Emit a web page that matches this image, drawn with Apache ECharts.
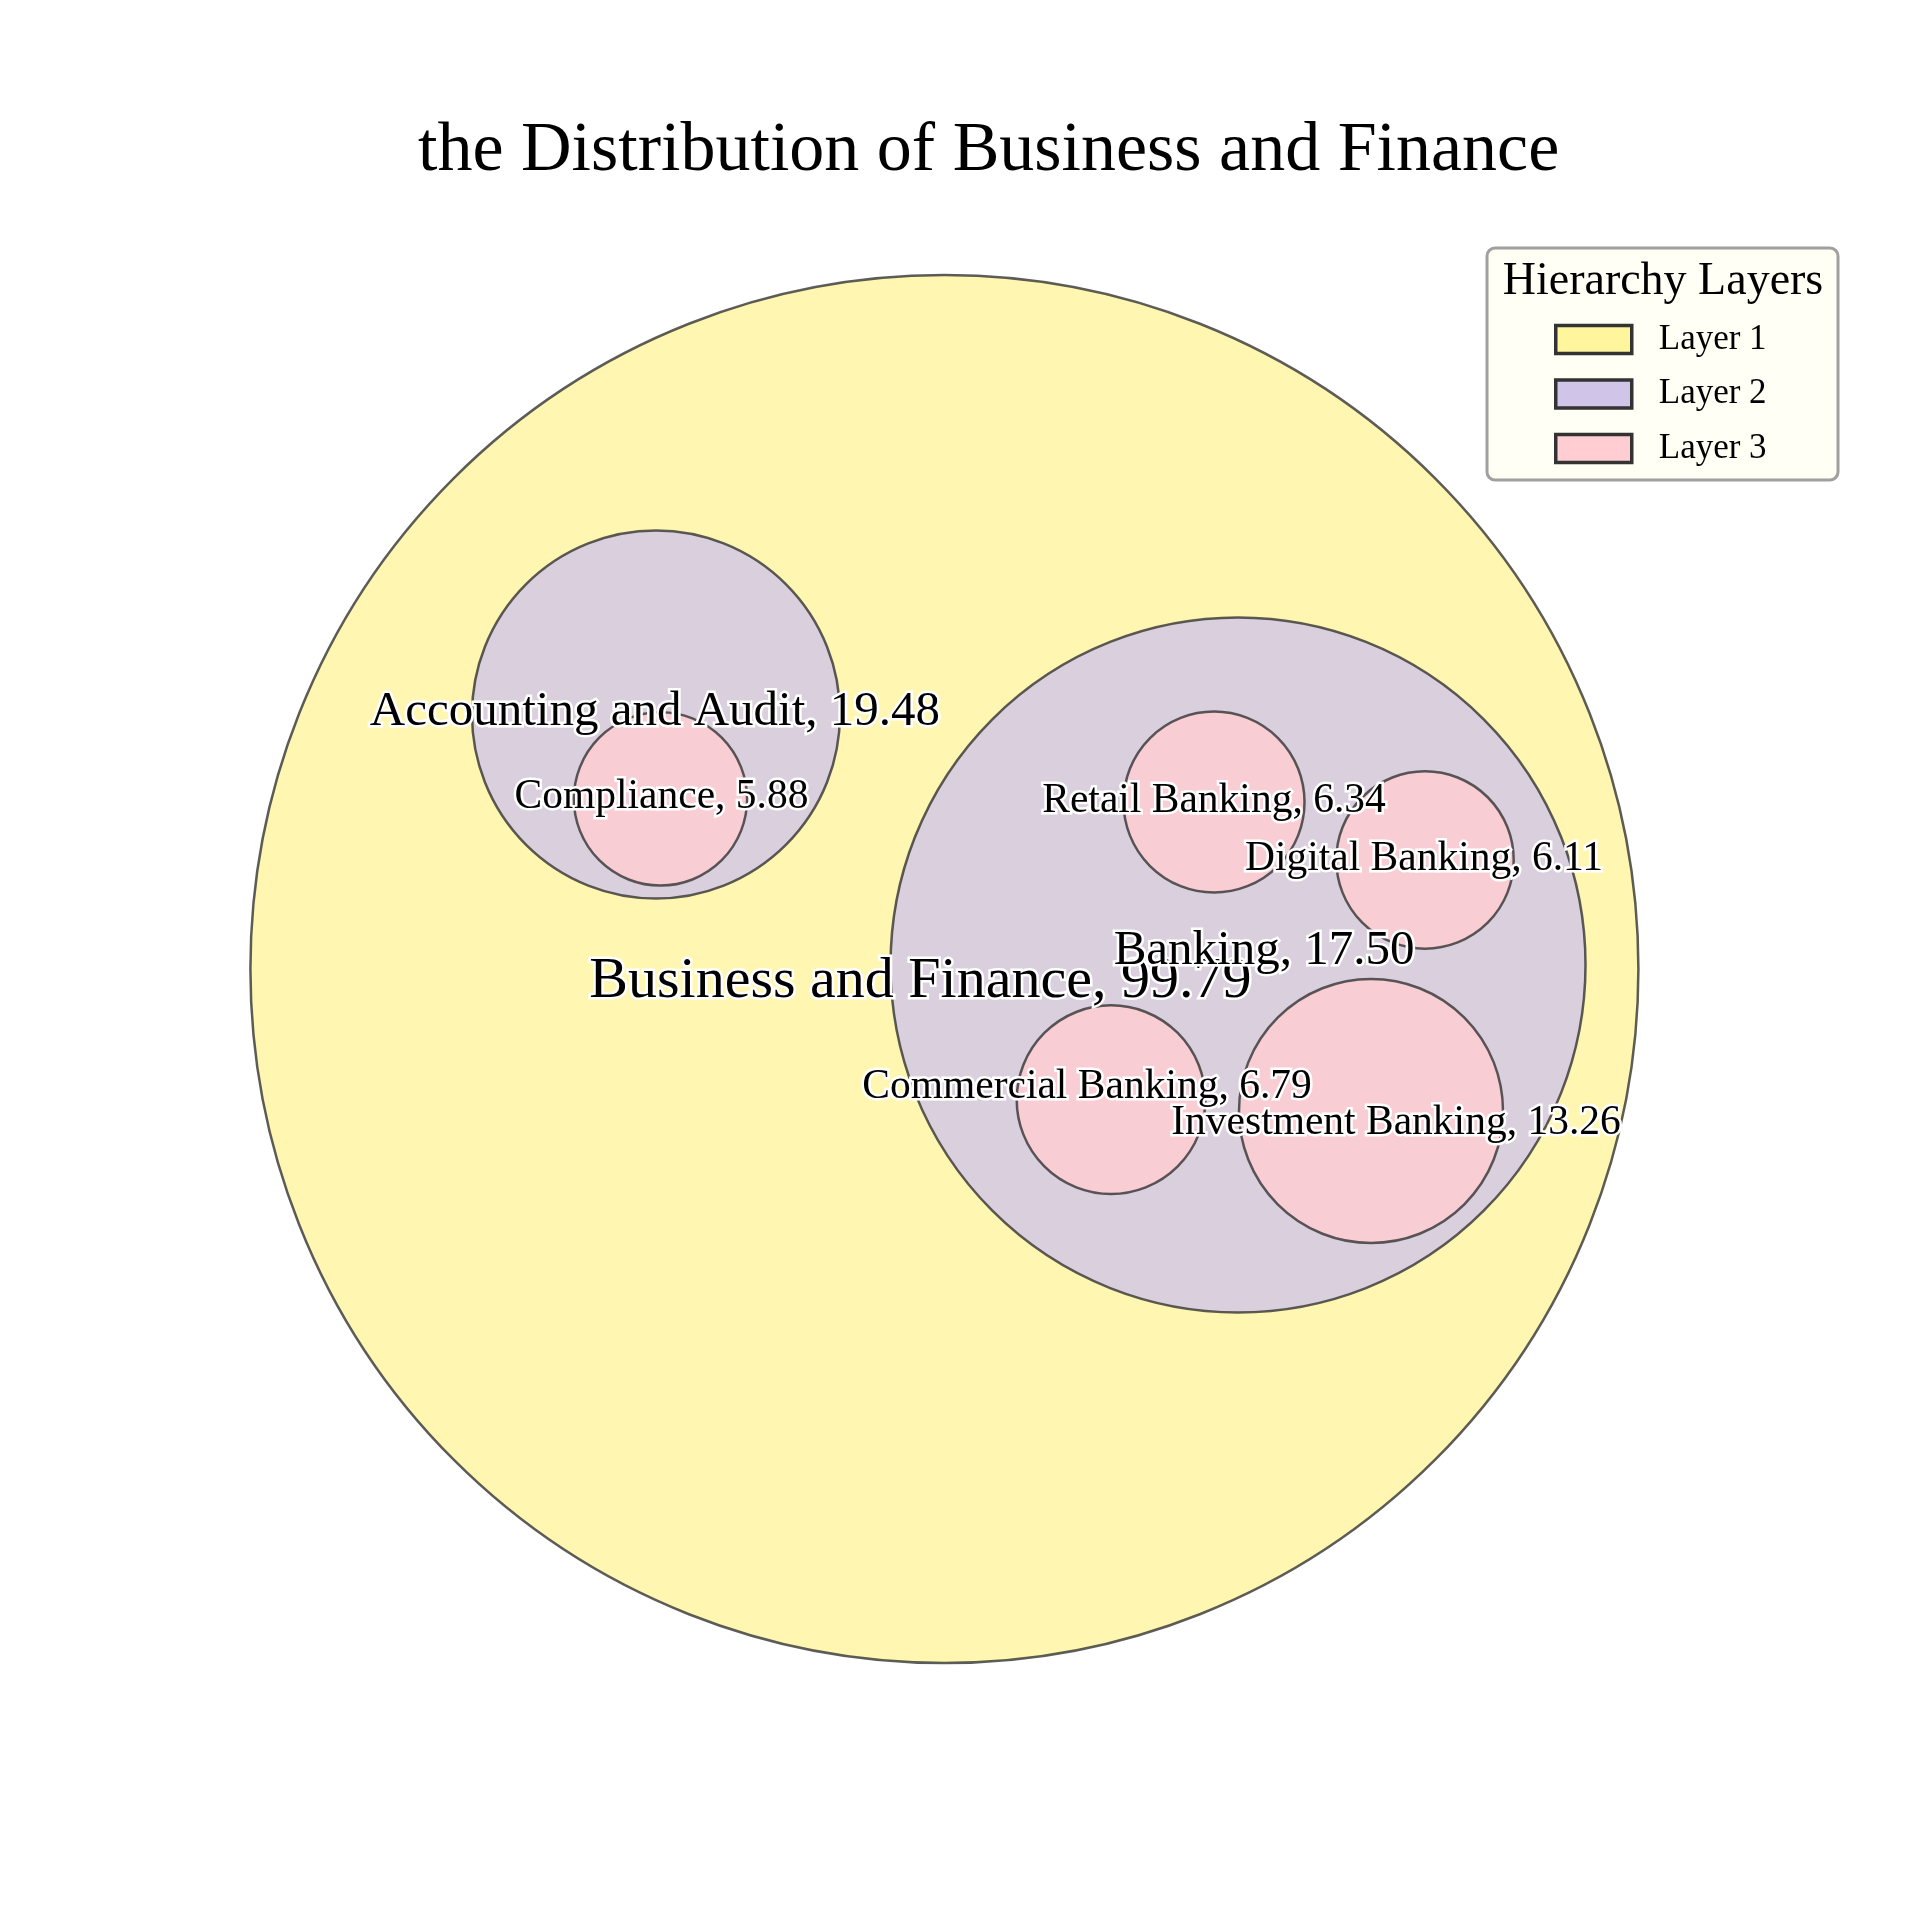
<!DOCTYPE html>
<html>
<head>
<meta charset="utf-8">
<script src="https://cdn.jsdelivr.net/npm/echarts@6/dist/echarts.min.js"></script>
<style>html,body{margin:0;padding:0;background:#fff}#main{width:1920px;height:1920px}</style>
</head>
<body>
<div id="main"></div>
<script>
// ---- data ----
const names = ['Business and Finance', 'Accounting and Audit', 'Compliance', 'Banking',
  'Retail Banking', 'Digital Banking', 'Commercial Banking', 'Investment Banking'];
const values = [99.79, 19.48, 5.88, 17.50, 6.34, 6.11, 6.79, 13.26];
const layers = [1, 2, 3, 2, 3, 3, 3, 3];
// circle-packing layout (units: outer circle radius = 1)
const cx = [0, -0.4156, -0.4091, 0.4231, 0.3885, 0.6925, 0.2401, 0.6147];
const cy = [0, 0.3667, 0.2450, 0.0058, 0.2406, 0.1571, -0.1883, -0.2046];
const cr = [1.0, 0.2651, 0.1248, 0.5007, 0.1304, 0.1278, 0.1359, 0.1902];
const layerNames = ['Layer 1', 'Layer 2', 'Layer 3'];
const titleText = 'the Distribution of Business and Finance';
const legendTitle = 'Hierarchy Layers';

// ---- styles ----
const layerColors = ['#FFF59D', '#D1C4E9', '#FFCDD2'];
const layerFont = [58, 49, 41.5];
const labelShift = { // pixel nudges of labels (repelled text)
  'Business and Finance': [-24, 13], 'Accounting and Audit': [-1, -2], 'Compliance': [1, -2],
  'Banking': [26, -14], 'Retail Banking': [0, -1], 'Digital Banking': [-1, -1],
  'Commercial Banking': [-24, -13], 'Investment Banking': [25, 12]
};
const FONT = '"Liberation Serif", "Times New Roman", serif';

function hexA(hex, a) {
  const n = parseInt(hex.slice(1), 16);
  return `rgba(${(n >> 16) & 255},${(n >> 8) & 255},${n & 255},${a})`;
}

const circleSeries = layerNames.map((ln, li) => ({
  type: 'custom', name: ln, coordinateSystem: 'cartesian2d', clip: false,
  itemStyle: { color: layerColors[li] },
  encode: { x: 0, y: 1 },
  data: names.map((n, i) => [cx[i], cy[i], cr[i], i]).filter(d => layers[d[3]] === li + 1),
  z: 2 + li,
  renderItem: function (params, api) {
    const c = api.coord([api.value(0), api.value(1)]);
    const s = api.size([api.value(2), api.value(2)]);
    return {
      type: 'circle',
      shape: { cx: c[0], cy: c[1], r: s[0] },
      style: { fill: hexA(layerColors[li], 0.8), stroke: 'rgba(51,51,51,0.8)', lineWidth: 2.5 }
    };
  }
}));

const labelSeries = {
  type: 'custom', name: 'labels', coordinateSystem: 'cartesian2d', clip: false, z: 10,
  encode: { x: 0, y: 1 },
  data: names.map((n, i) => [cx[i], cy[i], i]),
  renderItem: function (params, api) {
    const i = api.value(2);
    const c = api.coord([api.value(0), api.value(1)]);
    const sh = labelShift[names[i]] || [0, 0];
    return {
      type: 'text',
      style: {
        x: c[0] + sh[0], y: c[1] + sh[1],
        text: names[i] + ', ' + values[i].toFixed(2),
        font: layerFont[layers[i] - 1] + 'px ' + FONT,
        fill: '#000', stroke: '#fff', lineWidth: 5,
        align: 'center', verticalAlign: 'middle'
      }
    };
  }
};

const chart = echarts.init(document.getElementById('main'), null, { renderer: 'canvas' });
const S = 694, CX = 944.4, CY = 969, EXT = 1.2;
chart.setOption({
  animation: false,
  backgroundColor: '#fff',
  title: {
    text: titleText, left: 413, top: 112,
    textStyle: { fontFamily: FONT, fontSize: 70, fontWeight: 'normal', color: '#000' }
  },
  grid: { left: CX - EXT * S, top: CY - EXT * S, width: 2 * EXT * S, height: 2 * EXT * S },
  xAxis: { type: 'value', min: -EXT, max: EXT, show: false },
  yAxis: { type: 'value', min: -EXT, max: EXT, show: false },
  graphic: [
    { type: 'rect', x: 1487, y: 248, z: 50,
      shape: { width: 351, height: 232, r: 8 },
      style: { fill: '#fffff5', stroke: '#a0a0a0', lineWidth: 3 } },
    { type: 'text', x: 1663, y: 282, z: 51,
      style: { text: legendTitle, font: '46px ' + FONT, fill: '#000', align: 'center', verticalAlign: 'middle' } }
  ],
  legend: {
    orient: 'vertical', left: 1549, top: 317, z: 60,
    itemWidth: 76, itemHeight: 28, itemGap: 19.5, icon: 'rect',
    textStyle: { fontFamily: FONT, fontSize: 35, color: '#000', padding: [0, 0, 0, 22] },
    data: layerNames.map((ln, li) => ({
      name: ln, icon: 'rect',
      itemStyle: { color: layerColors[li], borderColor: '#333', borderWidth: 3.5 }
    }))
  },
  series: circleSeries.concat([labelSeries])
});
</script>
</body>
</html>
